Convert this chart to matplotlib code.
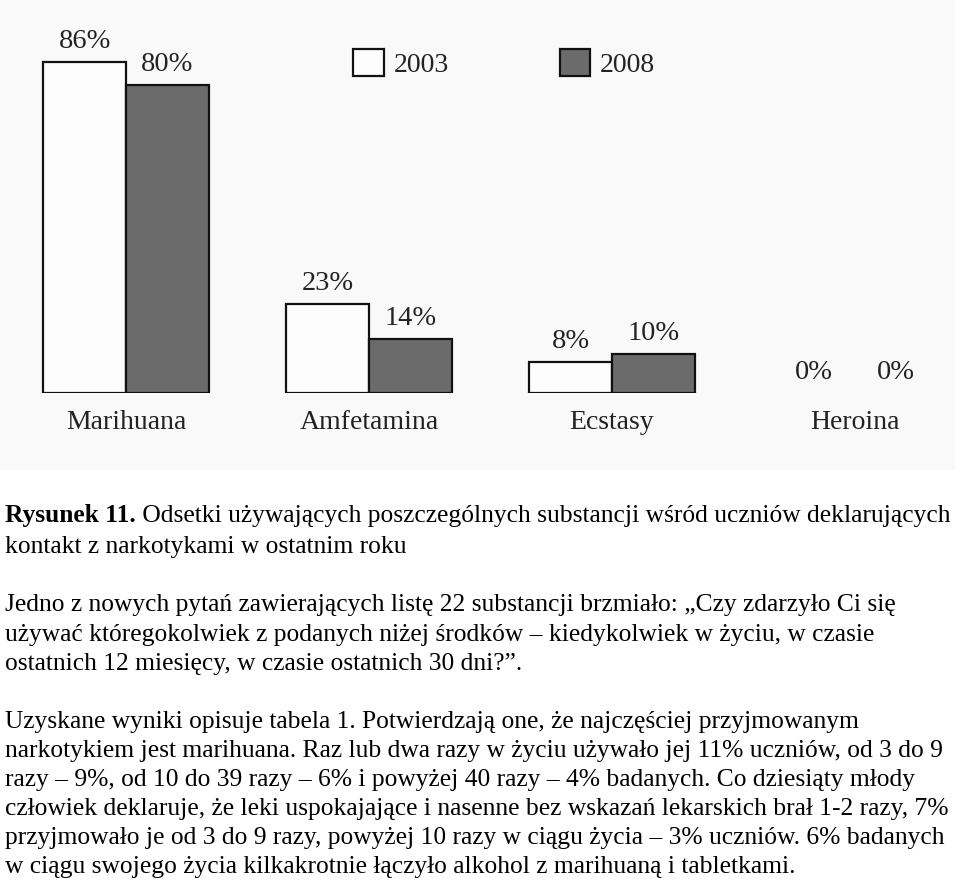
import matplotlib
matplotlib.use("Agg")
import matplotlib.pyplot as plt
from matplotlib.patches import Rectangle
import numpy as np

categories = ["Marihuana", "Amfetamina", "Ecstasy", "Heroina"]
years = ["2003", "2008"]
values_2003 = [86, 23, 8, 0]
values_2008 = [80, 14, 10, 0]

caption_bold = "Rysunek 11."
caption_rest = [
    " Odsetki używających poszczególnych substancji wśród uczniów deklarujących",
    "kontakt z narkotykami w ostatnim roku",
]
paragraph1 = [
    "Jedno z nowych pytań zawierających listę 22 substancji brzmiało: „Czy zdarzyło Ci się",
    "używać któregokolwiek z podanych niżej środków – kiedykolwiek w życiu, w czasie",
    "ostatnich 12 miesięcy, w czasie ostatnich 30 dni?”.",
]
paragraph2 = [
    "Uzyskane wyniki opisuje tabela 1. Potwierdzają one, że najczęściej przyjmowanym",
    "narkotykiem jest marihuana. Raz lub dwa razy w życiu używało jej 11% uczniów, od 3 do 9",
    "razy – 9%, od 10 do 39 razy – 6% i powyżej 40 razy – 4% badanych. Co dziesiąty młody",
    "człowiek deklaruje, że leki uspokajające i nasenne bez wskazań lekarskich brał 1-2 razy, 7%",
    "przyjmowało je od 3 do 9 razy, powyżej 10 razy w ciągu życia – 3% uczniów. 6% badanych",
    "w ciągu swojego życia kilkakrotnie łączyło alkohol z marihuaną i tabletkami.",
]

plt.rcParams["font.family"] = ["Liberation Serif", "DejaVu Serif"]

W, H = 960, 880
fig = plt.figure(figsize=(W / 100, H / 100), dpi=100)
fig.patch.set_facecolor("white")

# light grey panel behind the chart (scanned look)
fig.patches.append(Rectangle((0, 1 - 470 / H), 955 / W, 470 / H,
                             transform=fig.transFigure, facecolor="#f9f9f9",
                             edgecolor="none", zorder=-5))

# axes placed in pixel terms: baseline at y=393, 100% = 385 px
ax = fig.add_axes([0, 1 - 393 / H, 1, 385 / H])
ax.set_facecolor("none")
ax.set_zorder(2)
x = np.arange(len(categories))
w = 0.34
b1 = ax.bar(x - w / 2, values_2003, w, color="#fdfdfd", edgecolor="#111111",
            linewidth=1.6, label=years[0])
b2 = ax.bar(x + w / 2, values_2008, w, color="#6b6b6b", edgecolor="#111111",
            linewidth=1.6, label=years[1])
# zero-height bars leave no outline in the original
for bars in (b1, b2):
    for r in bars:
        if r.get_height() == 0:
            r.set_linewidth(0)

ax.bar_label(b1, labels=[f"{v}%" for v in values_2003], padding=6, fontsize=20.5,
             color="#222222")
ax.bar_label(b2, labels=[f"{v}%" for v in values_2008], padding=6, fontsize=20.5,
             color="#222222")

ax.set_xlim((0 - 126) / 243, (W - 126) / 243)
ax.set_ylim(0, 100)
ax.set_xticks(x)
ax.set_xticklabels(categories, fontsize=20, color="#222222")
ax.tick_params(axis="x", length=0, pad=12)
ax.set_yticks([])
for s in ax.spines.values():
    s.set_visible(False)

leg = ax.legend(ncol=2, loc="upper left", bbox_to_anchor=(342 / W, 1 + (8 - 38) / 385),
                frameon=False, fontsize=20, handlelength=1.1, handleheight=1.1,
                handletextpad=0.35, columnspacing=4.0, borderaxespad=0)
for t in leg.get_texts():
    t.set_color("#222222")

# caption and body text
fs = 18.4
x0 = 5 / W


def ypos(px):
    return 1 - px / H


t_bold = fig.text(x0, ypos(522), caption_bold, fontsize=fs, fontweight="bold",
                  va="baseline")
fig.canvas.draw()
bb = t_bold.get_window_extent()
fig.text(bb.x1 / W, ypos(522), caption_rest[0], fontsize=fs, va="baseline")
fig.text(x0, ypos(553), caption_rest[1], fontsize=fs, va="baseline")

for i, line in enumerate(paragraph1):
    fig.text(x0, ypos(611 + 29.5 * i), line, fontsize=fs, va="baseline")
for i, line in enumerate(paragraph2):
    fig.text(x0, ypos(728 + 29 * i), line, fontsize=fs, va="baseline")

fig.savefig("out.png", dpi=100, facecolor="white")
